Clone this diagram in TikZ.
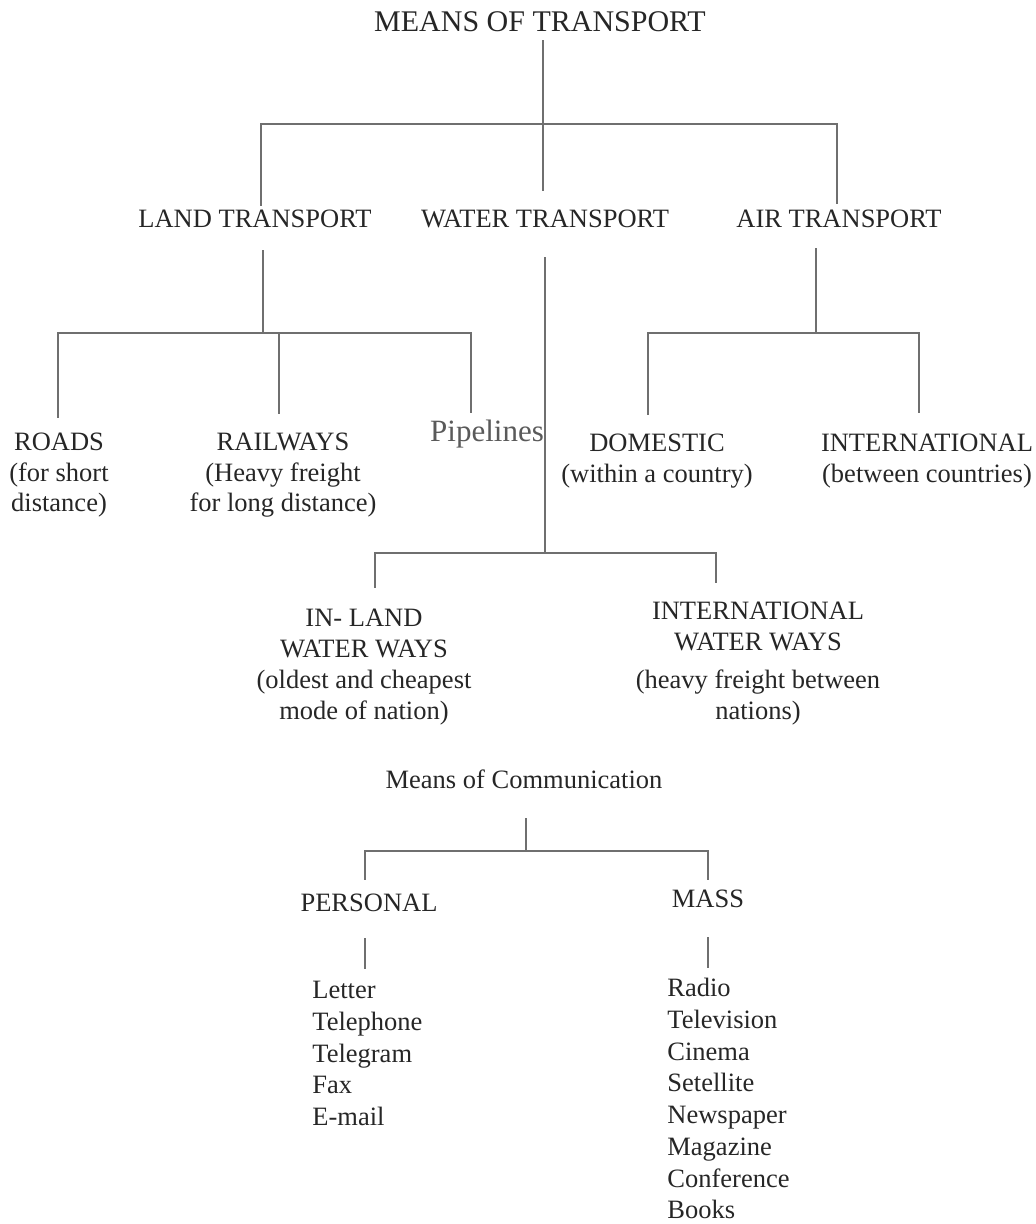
\documentclass[tikz,border=0pt]{standalone}
\usepackage{fontspec}
\setmainfont{Liberation Serif}
\definecolor{tline}{HTML}{6F6F6F}
\definecolor{ttext}{HTML}{262626}
\definecolor{tpipe}{HTML}{5A5A5A}

\begin{document}
\begin{tikzpicture}[
  x=0.5pt, y=-0.5pt,
  head/.style={
    anchor=base, inner sep=0pt, text=ttext,
    font=\fontsize{15}{18}\selectfont
  },
  cat/.style={
    anchor=base, inner sep=0pt, text=ttext,
    font=\fontsize{13.25}{15.2}\selectfont
  },
  lbl/.style={
    anchor=north, inner sep=0pt, align=center, text=ttext,
    font=\fontsize{13.25}{15.2}\selectfont
  },
  item/.style={
    anchor=north west, inner sep=0pt, align=left, text=ttext,
    font=\fontsize{13.25}{15.85}\selectfont
  },
  link/.style={draw=tline, line width=1.1pt, line cap=rect},
]
  \useasboundingbox (0,0) rectangle (1035,1224);

  % transport
  \node[head] (title) at (540,32)  {MEANS OF TRANSPORT};
  \node[cat]  (land)  at (255,228) {LAND TRANSPORT};
  \node[cat]  (water) at (545,228) {WATER TRANSPORT};
  \node[cat]  (air)   at (839,228) {AIR TRANSPORT};

  \node[lbl] (roads) at (59,433)  {ROADS\\(for short\\distance)};
  \node[lbl] (rail)  at (283,433) {RAILWAYS\\(Heavy freight\\for long distance)};
  \node[cat, text=tpipe, font=\fontsize{15.5}{18}\selectfont]
    (pipe) at (487,441) {Pipelines};
  \node[lbl] (domestic) at (657,434) {DOMESTIC\\(within a country)};
  \node[lbl] (intl)     at (927,434) {INTERNATIONAL\\(between countries)};

  \node[lbl, font=\fontsize{13.25}{15.5}\selectfont] (inland) at (364,609)
    {IN- LAND\\WATER WAYS\\(oldest and cheapest\\mode of nation)};
  \node[lbl, font=\fontsize{13.25}{15.5}\selectfont] (seaways) at (758,602)
    {INTERNATIONAL\\WATER WAYS\\[3.5pt](heavy freight between\\nations)};

  \coordinate (tj) at (543,124);
  \coordinate (tl) at (261,124);
  \coordinate (tr) at (837,124);
  \draw[link, shorten <=4pt] (title.south -| tj) -- (tj);
  \draw[link] (tl) -- (tr);
  \draw[link, shorten >=2.5pt] (tl) -- (tl |- land.north);
  \draw[link, shorten >=10pt] (tj) -- (tj |- water.north);
  \draw[link, shorten >=3.5pt] (tr) -- (tr |- air.north);

  \coordinate (lj) at (263,333);
  \coordinate (ll) at (58,333);
  \coordinate (lm) at (279,333);
  \coordinate (lr) at (471,333);
  \draw[link, shorten <=11pt] (lj |- land.south) -- (lj);
  \draw[link] (ll) -- (lr);
  \draw[link, shorten >=8pt] (ll) -- (ll |- roads.north);
  \draw[link, shorten >=10pt] (lm) -- (lm |- rail.north);
  \draw[link, shorten >=3.5pt] (lr) -- (lr |- pipe.north);

  \coordinate (wj) at (545,553);
  \coordinate (wl) at (375,553);
  \coordinate (wr) at (716,553);
  \draw[link, shorten <=14.5pt] (wj |- water.south) -- (wj);
  \draw[link] (wl) -- (wr);
  \draw[link, shorten >=11pt] (wl) -- (wl |- inland.north);
  \draw[link, shorten >=10pt] (wr) -- (wr |- seaways.north);

  \coordinate (aj) at (816,333);
  \coordinate (al) at (648,333);
  \coordinate (ar) at (919,333);
  \draw[link, shorten <=10pt] (aj |- air.south) -- (aj);
  \draw[link] (al) -- (ar);
  \draw[link, shorten >=10pt] (al) -- (al |- domestic.north);
  \draw[link, shorten >=11pt] (ar) -- (ar |- intl.north);

  % communication
  \node[cat] (comm)     at (524,788) {Means of Communication};
  \node[cat] (personal) at (369,911) {PERSONAL};
  \node[cat] (mass)     at (708,907) {MASS};
  \node[item] (plist) at (312,981)
    {Letter\\Telephone\\Telegram\\Fax\\E-mail};
  \node[item] (mlist) at (667,978)
    {Radio\\Television\\Cinema\\Setellite\\Newspaper\\Magazine\\Conference\\Books};

  \coordinate (cj) at (526,851);
  \coordinate (cl) at (365,851);
  \coordinate (cr) at (708,851);
  \draw[link, shorten <=15pt] (cj |- comm.south) -- (cj);
  \draw[link] (cl) -- (cr);
  \draw[link, shorten >=7pt] (cl) -- (cl |- personal.north);
  \draw[link, shorten >=5pt] (cr) -- (cr |- mass.north);
  \draw[link, shorten <=13.5pt, shorten >=6.5pt] (cl |- personal.south) -- (cl |- plist.north);
  \draw[link, shorten <=15pt, shorten >=5.5pt] (cr |- mass.south) -- (cr |- mlist.north);
\end{tikzpicture}
\end{document}
